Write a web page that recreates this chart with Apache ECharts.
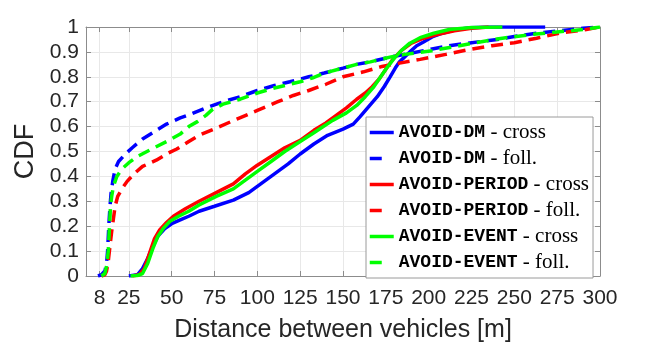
<!DOCTYPE html>
<html>
<head>
<meta charset="utf-8">
<script src="https://cdn.jsdelivr.net/npm/echarts@6/dist/echarts.min.js"></script>
<style>
html,body{margin:0;padding:0;background:#fff;}
#c{width:664px;height:348px;}
</style>
</head>
<body>
<div id="c"></div>
<script>
// ---- data ----
const xTicks = [8, 25, 50, 75, 100, 125, 150, 175, 200, 225, 250, 275, 300];
const seriesNames = ['AVOID-DM - cross', 'AVOID-DM - foll.', 'AVOID-PERIOD - cross', 'AVOID-PERIOD - foll.', 'AVOID-EVENT - cross', 'AVOID-EVENT - foll.'];

const dmCross = [[25,0],[30,0.005],[33,0.03],[36,0.07],[39,0.12],[42,0.16],[46,0.19],[50,0.21],[55,0.225],[60,0.24],[66,0.26],[75,0.28],[86,0.305],[95,0.335],[102,0.37],[110,0.41],[118,0.45],[125,0.49],[133,0.53],[141,0.565],[150,0.59],[156,0.61],[160,0.64],[165,0.68],[170,0.72],[174,0.76],[177.5,0.80],[180.5,0.835],[183,0.86],[186,0.88],[189,0.90],[193,0.925],[197,0.94],[202,0.96],[208,0.975],[215,0.988],[224,0.997],[235,1],[268,1]];
const dmFoll = [[7,0],[9,0.005],[11,0.02],[12,0.05],[12.6,0.1],[13.3,0.2],[14,0.28],[14.6,0.33],[15.6,0.38],[17,0.43],[19,0.46],[23,0.49],[27,0.515],[33,0.55],[40,0.58],[47,0.61],[55,0.635],[61,0.65],[70,0.675],[80,0.70],[90,0.72],[100,0.745],[110,0.765],[119,0.78],[130,0.80],[139,0.815],[150,0.835],[158,0.85],[166,0.86],[178,0.88],[190,0.895],[202,0.912],[215,0.928],[224,0.936],[240,0.95],[250,0.962],[263,0.975],[277,0.985],[290,0.995],[300,1]];
const periodCross = [[27,0],[31,0.005],[34,0.03],[37,0.09],[40,0.15],[43,0.185],[47,0.215],[51,0.24],[58,0.27],[66,0.30],[76,0.335],[86,0.37],[93,0.41],[100,0.445],[108,0.48],[116,0.515],[125,0.545],[133,0.585],[140,0.615],[146,0.645],[152,0.675],[158,0.71],[163,0.735],[167,0.76],[171,0.79],[175,0.83],[179,0.87],[184,0.905],[190,0.935],[197,0.955],[205,0.97],[215,0.985],[225,0.995],[235,1]];
const periodFoll = [[9,0],[11,0.005],[12,0.02],[13,0.06],[14,0.12],[15,0.18],[16,0.23],[17,0.28],[18.5,0.32],[21,0.35],[24,0.38],[28,0.41],[33,0.44],[41,0.465],[47,0.49],[53,0.51],[60,0.54],[66,0.565],[78,0.60],[88,0.63],[100,0.665],[112,0.70],[121,0.725],[130,0.745],[140,0.77],[150,0.80],[162,0.82],[172,0.84],[183,0.855],[195,0.87],[210,0.89],[224,0.91],[237,0.925],[250,0.937],[263,0.955],[277,0.976],[292,0.99],[300,1]];
const eventCross = [[26,0],[30,0.002],[33,0.01],[36,0.05],[39,0.11],[42,0.16],[45,0.19],[49,0.22],[54,0.24],[60,0.26],[66,0.285],[76,0.32],[86,0.35],[93,0.385],[100,0.42],[108,0.46],[116,0.50],[125,0.54],[133,0.575],[144,0.625],[152,0.655],[158,0.685],[163,0.72],[168,0.76],[172,0.80],[176,0.84],[180,0.875],[184,0.905],[189,0.935],[195,0.957],[203,0.975],[212,0.99],[225,0.998],[243,1]];
const eventFoll = [[9,0],[11,0.01],[12,0.04],[13,0.1],[13.7,0.2],[14.3,0.28],[15,0.32],[16,0.36],[18,0.40],[21,0.43],[25,0.455],[30,0.48],[37,0.505],[47,0.54],[55,0.57],[60,0.60],[65,0.62],[70,0.645],[74,0.67],[80,0.69],[90,0.71],[100,0.735],[110,0.755],[119,0.77],[125,0.78],[132,0.795],[139,0.815],[150,0.835],[158,0.85],[166,0.86],[178,0.88],[186,0.89],[202,0.905],[214,0.92],[230,0.94],[243,0.955],[260,0.97],[275,0.98],[290,0.99],[300,1]];

const seriesData = [dmCross, dmFoll, periodCross, periodFoll, eventCross, eventFoll];
const seriesColors = ['#0000ff', '#0000ff', '#ff0000', '#ff0000', '#00ff00', '#00ff00'];
const seriesDashed = [false, true, false, true, false, true];

// ---- chart ----
const chart = echarts.init(document.getElementById('c'), null, {renderer: 'canvas'});
const axisColor = '#8c8c8c';
const gridColor = '#e8e8e8';
const txt = '#262626';
const dash = [12, 7];

const series = seriesNames.map((n, i) => ({
  name: n,
  type: 'line',
  data: seriesData[i],
  symbol: 'none',
  showSymbol: false,
  smooth: false,
  lineStyle: {color: seriesColors[i], width: 3.5, type: seriesDashed[i] ? dash : 'solid'},
  itemStyle: {color: seriesColors[i]},
  xAxisIndex: 0, yAxisIndex: 0,
  z: 2 + i
}));

const legendData = seriesNames.map((n, i) => seriesDashed[i]
  ? {name: n, itemStyle: {opacity: 0}, lineStyle: {type: [12, 40], width: 3.5}}
  : {name: n, itemStyle: {opacity: 0}, lineStyle: {width: 3.5}});

chart.setOption({
  animation: false,
  backgroundColor: '#ffffff',
  grid: {left: 86, right: 64, top: 27, bottom: 69, containLabel: false},
  xAxis: [{
    type: 'value', min: 0, max: 300, position: 'bottom',
    name: 'Distance between vehicles [m]', nameLocation: 'middle', nameGap: 42,
    nameTextStyle: {fontFamily: 'Liberation Sans', fontSize: 25, color: txt},
    axisLine: {show: true, onZero: false, lineStyle: {color: axisColor, width: 1}},
    axisTick: {show: true, inside: true, length: 5, customValues: xTicks, lineStyle: {color: axisColor}},
    axisLabel: {customValues: xTicks, margin: 12, fontFamily: 'Liberation Sans', fontSize: 21, color: txt, showMinLabel: true, showMaxLabel: true},
    splitLine: {show: true, lineStyle: {color: gridColor, width: 1}}
  }, {
    type: 'value', min: 0, max: 300, position: 'top',
    axisLine: {show: true, onZero: false, lineStyle: {color: axisColor, width: 1}},
    axisTick: {show: true, inside: true, length: 5, customValues: xTicks, lineStyle: {color: axisColor}},
    axisLabel: {show: false},
    splitLine: {show: false}
  }],
  yAxis: [{
    type: 'value', min: 0, max: 1, interval: 0.1, position: 'left',
    name: 'CDF', nameLocation: 'middle', nameGap: 42, nameRotate: 90,
    nameTextStyle: {fontFamily: 'Liberation Sans', fontSize: 27, color: txt},
    axisLine: {show: true, onZero: false, lineStyle: {color: axisColor, width: 1}},
    axisTick: {show: true, inside: true, length: 5, lineStyle: {color: axisColor}},
    axisLabel: {margin: 7, fontFamily: 'Liberation Sans', fontSize: 21, color: txt,
      formatter: v => (Math.abs(v) < 1e-9 ? '0' : Math.abs(v - 1) < 1e-9 ? '1' : v.toFixed(1))},
    splitLine: {show: true, lineStyle: {color: gridColor, width: 1}}
  }, {
    type: 'value', min: 0, max: 1, interval: 0.1, position: 'right',
    axisLine: {show: true, onZero: false, lineStyle: {color: axisColor, width: 1}},
    axisTick: {show: true, inside: true, length: 5, lineStyle: {color: axisColor}},
    axisLabel: {show: false},
    splitLine: {show: false}
  }],
  legend: {
    show: true,
    orient: 'vertical',
    left: 366, top: 117,
    padding: [5, 4, 5, 2],
    itemGap: 5,
    itemWidth: 24, itemHeight: 14,
    itemTextGap: 3,
    itemStyle: {opacity: 0},
    backgroundColor: '#ffffff',
    borderColor: '#9a9a9a', borderWidth: 1, borderRadius: 0,
    data: legendData,
    selectedMode: false,
    formatter: name => {
      const p = name.split(' - ');
      return '{m|' + p[0] + '}{s| - ' + p[1] + '}';
    },
    textStyle: {
      color: '#000',
      rich: {
        m: {fontFamily: 'Liberation Mono', fontSize: 18, fontWeight: 'bold', color: '#000', lineHeight: 20},
        s: {fontFamily: 'Liberation Serif', fontSize: 21, color: '#000', lineHeight: 20}
      }
    }
  },
  series: series
});
</script>
</body>
</html>
